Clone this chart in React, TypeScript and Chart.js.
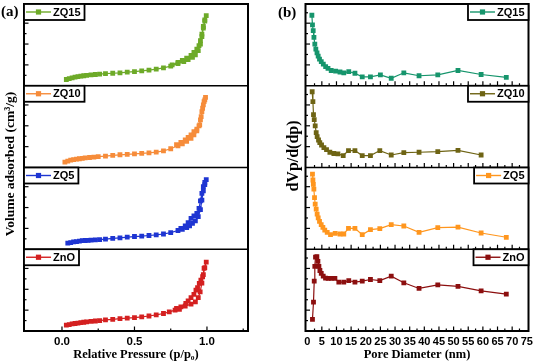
import React, { useEffect, useRef } from 'react';
import { Chart, registerables } from 'chart.js';

Chart.register(...registerables);

// ---------------- data ----------------
// (a) N2 isotherms: relative pressure vs volume adsorbed (arbitrary units per sub-panel)
const ZQ15_ADS_P = [0.03, 0.05, 0.07, 0.09, 0.11, 0.13, 0.15, 0.17, 0.2, 0.23, 0.26, 0.3, 0.35, 0.4, 0.45, 0.5, 0.55, 0.6, 0.65, 0.7, 0.75, 0.8, 0.84, 0.87, 0.9, 0.92, 0.94, 0.955, 0.965, 0.975, 0.985, 0.995];
const ZQ15_ADS_V = [15, 17, 19, 20.5, 22, 23, 24, 25, 26, 27, 28, 29, 30, 31, 32.5, 34, 35.5, 37.5, 40, 43, 47, 53, 58, 63, 68, 74, 84, 100, 118, 138, 155, 168];
const ZQ15_DES_P = [0.985, 0.975, 0.965, 0.955, 0.945, 0.93, 0.91, 0.89, 0.86, 0.83, 0.8, 0.76];
const ZQ15_DES_V = [158, 142, 124, 108, 96, 88, 80, 73, 66, 61, 56, 50];

const ZQ10_ADS_P = [0.02, 0.04, 0.06, 0.08, 0.1, 0.12, 0.14, 0.16, 0.19, 0.22, 0.25, 0.3, 0.35, 0.4, 0.45, 0.5, 0.55, 0.6, 0.65, 0.7, 0.75, 0.8, 0.83, 0.86, 0.89, 0.91, 0.93, 0.95, 0.96, 0.97, 0.98, 0.99];
const ZQ10_ADS_V = [13, 15.5, 17.5, 19, 20, 21, 22, 23, 24, 25, 26, 27.5, 29, 30.5, 31.5, 32.5, 34, 35, 37, 40, 45, 52, 57, 63, 70, 78, 88, 102, 122, 142, 158, 168];
const ZQ10_DES_P = [0.985, 0.975, 0.965, 0.955, 0.945, 0.93, 0.91, 0.89, 0.87, 0.85, 0.82, 0.79];
const ZQ10_DES_V = [162, 150, 134, 114, 100, 92, 86, 78, 72, 66, 60, 55];

const ZQ5_ADS_P = [0.04, 0.06, 0.08, 0.1, 0.12, 0.14, 0.16, 0.18, 0.2, 0.23, 0.26, 0.3, 0.35, 0.4, 0.45, 0.5, 0.55, 0.6, 0.65, 0.7, 0.75, 0.8, 0.83, 0.86, 0.88, 0.9, 0.92, 0.94, 0.955, 0.965, 0.975, 0.985, 0.995];
const ZQ5_ADS_V = [14.5, 16, 17.5, 18.5, 19.5, 20.5, 21, 21.5, 22, 22.5, 23, 24.5, 26, 27.5, 29, 30.5, 31.5, 33, 34.5, 36.5, 40, 45, 48, 52, 56, 62, 68, 78, 95, 118, 140, 155, 167];
const ZQ5_DES_P = [0.985, 0.975, 0.965, 0.955, 0.945, 0.93, 0.91, 0.89, 0.87, 0.85, 0.82];
const ZQ5_DES_V = [160, 150, 134, 116, 98, 86, 80, 74, 64, 56, 50];

const ZNO_ADS_P = [0.03, 0.05, 0.07, 0.09, 0.11, 0.13, 0.15, 0.17, 0.2, 0.23, 0.26, 0.3, 0.35, 0.4, 0.45, 0.5, 0.55, 0.6, 0.65, 0.7, 0.74, 0.78, 0.81, 0.85, 0.89, 0.92, 0.94, 0.953, 0.965, 0.975, 0.985, 0.995];
const ZNO_ADS_V = [14, 15.5, 17, 18, 19, 20, 21, 22, 23, 24, 25, 26.5, 28, 29.5, 31, 32, 34, 36, 38.5, 42, 46, 50, 52, 60, 64.5, 70, 80, 94, 115, 135, 152, 165];
const ZNO_DES_P = [0.98, 0.97, 0.958, 0.947, 0.935, 0.924, 0.91, 0.89, 0.87, 0.854, 0.82, 0.79];
const ZNO_DES_V = [150, 130, 122, 114, 104, 98, 88, 80, 72, 66, 58, 54];

// (b) BJH pore size distribution: pore diameter (nm) vs dVp/d(dp) (arbitrary units per sub-panel)
const ZQ15_PD_D = [1.6, 1.8, 2.05, 2.3, 2.6, 2.95, 3.35, 3.75, 4.2, 4.8, 5.5, 6.3, 7.1, 8.2, 9.7, 11.2, 12.5, 14.2, 16.3, 18.8, 21.6, 25.0, 28.7, 33.0, 38.2, 44.6, 51.5, 59.4, 68.0];
const ZQ15_PD_V = [169, 146, 132, 116, 100, 88, 79, 71, 64, 58, 52, 46, 41.5, 36.6, 35, 33, 31, 34, 30, 21.5, 21.5, 26, 18, 31, 24, 26, 36.6, 27, 20];

const ZQ10_PD_D = [1.7, 1.95, 2.15, 2.4, 2.73, 3.07, 3.4, 3.87, 4.3, 4.9, 5.7, 6.6, 7.74, 9.1, 10.5, 12.3, 14.1, 16.3, 18.8, 21.6, 24.8, 28.7, 33, 38.2, 44.6, 51.5, 59.4];
const ZQ10_PD_V = [181.6, 158, 127, 115, 99.6, 83.6, 74, 66, 59.8, 54, 47.8, 43, 36.6, 33.5, 32.7, 28.7, 40.6, 40.6, 28.7, 28.7, 40.6, 30, 35.8, 36.6, 38, 41, 30];

const ZQ5_PD_D = [1.8, 1.95, 2.1, 2.28, 2.5, 2.73, 3.07, 3.4, 3.76, 4.2, 4.78, 5.36, 6.0, 6.83, 7.97, 9.56, 11.2, 12.5, 14.1, 16.3, 18.8, 21.6, 24.8, 28.7, 33, 38.2, 44.6, 51.5, 59.4, 68];
const ZQ5_PD_V = [180, 166, 155.6, 144, 124, 108, 96, 84, 75, 67, 59, 52.6, 46, 40.6, 35, 38, 36.6, 36.6, 50, 50, 35, 47, 49.5, 59, 55.7, 40.6, 51.9, 53, 39, 28.7];

const ZNO_PD_D = [1.8, 2.15, 2.4, 2.6, 2.84, 3.3, 3.66, 4.0, 4.34, 4.8, 5.47, 6.26, 7.17, 8.2, 9.46, 10.8, 12.5, 14.2, 16.3, 18.8, 21.6, 24.8, 28.7, 33, 38.2, 44.6, 51.5, 59.4, 68];
const ZNO_PD_V = [28, 69, 119.5, 155, 177, 178.5, 167, 155, 145, 138, 131.5, 127, 126, 126, 126, 117, 117, 121, 117, 119.5, 123.5, 121, 131.5, 115.5, 102, 110.7, 106.8, 96.3, 88.4];

// sample names (top to bottom)
const SAMPLE_NAMES = ['ZQ15', 'ZQ10', 'ZQ5', 'ZnO'];

// axes
const Y_RANGE = [0, 196];
const Y_MAJOR = [50, 100, 150];
const Y_MINOR = [25, 75, 125, 175];
const XA_RANGE = [-0.262, 1.283];
const XA_TICKS = [0, 0.5, 1.0];
const XA_LABELS = ['0.0', '0.5', '1.0'];
const XB_RANGE = [-0.58, 75.58];
const XB_TICKS = [0, 5, 10, 15, 20, 25, 30, 35, 40, 45, 50, 55, 60, 65, 70, 75];
const XB_LABELS = ['0', '5', '10', '15', '20', '25', '30', '35', '40', '45', '50', '55', '60', '65', '70', '75'];

// colours
const COLORS_A = ['#6DAA28', '#F68C3A', '#1E35D2', '#D42020'];
const COLORS_B = ['#16956C', '#6E6414', '#FF961E', '#8C0F0F'];

const pts = (xs: number[], ys: number[]) => xs.map((x, i) => ({ x, y: ys[i] }));

const SERIES_A = [
  pts(ZQ15_ADS_P, ZQ15_ADS_V).concat(pts(ZQ15_DES_P, ZQ15_DES_V)),
  pts(ZQ10_ADS_P, ZQ10_ADS_V).concat(pts(ZQ10_DES_P, ZQ10_DES_V)),
  pts(ZQ5_ADS_P, ZQ5_ADS_V).concat(pts(ZQ5_DES_P, ZQ5_DES_V)),
  pts(ZNO_ADS_P, ZNO_ADS_V).concat(pts(ZNO_DES_P, ZNO_DES_V)),
];
const SERIES_B = [
  pts(ZQ15_PD_D, ZQ15_PD_V),
  pts(ZQ10_PD_D, ZQ10_PD_V),
  pts(ZQ5_PD_D, ZQ5_PD_V),
  pts(ZNO_PD_D, ZNO_PD_V),
];

type Spec = {
  series: { x: number; y: number }[][];
  colors: string[];
  xRange: number[];
  xTicks: number[];
  xLabels: string[];
  tickSize: number;
  xTitle: string;
  yTitle: string;
  yTitleFont: string;
  yTitleX: number;
  yTitleY: number;
  panelLabel: string;
  labelX: number;
  labelY: number;
  padding: { left: number; right: number; top: number; bottom: number };
  legendSide: 'left' | 'right';
  xTicksEveryRow: boolean;
};

const SERIF = '"Liberation Serif", "Times New Roman", serif';
const SANS = '"Liberation Sans", Arial, sans-serif';

function decorPlugin(spec: Spec) {
  return {
    id: 'decor',
    afterDraw(chart: any) {
      const ctx = chart.ctx as CanvasRenderingContext2D;
      const a = chart.chartArea;
      const xs = chart.scales.x;
      const n = spec.series.length;
      const ys = spec.series.map((_, i) => chart.scales['y' + i]);
      const line = (x1: number, y1: number, x2: number, y2: number) => {
        ctx.beginPath();
        ctx.moveTo(x1, y1);
        ctx.lineTo(x2, y2);
        ctx.stroke();
      };
      ctx.save();
      ctx.strokeStyle = '#000';
      ctx.fillStyle = '#000';
      // y ticks (inward, left edge)
      ctx.lineWidth = 1.2;
      ys.forEach((s: any) => {
        Y_MAJOR.forEach((v) => {
          const py = s.getPixelForValue(v);
          line(a.left, py, a.left + 4.5, py);
        });
        Y_MINOR.forEach((v) => {
          const py = s.getPixelForValue(v);
          line(a.left, py, a.left + 2.5, py);
        });
      });
      // x ticks (inward)
      const rows = spec.xTicksEveryRow ? ys.map((s: any) => s.bottom) : [a.bottom];
      const step = spec.xTicks[1] - spec.xTicks[0];
      rows.forEach((by: number) => {
        spec.xTicks.forEach((v) => {
          const px = xs.getPixelForValue(v);
          if (px > a.left + 3 && px < a.right - 3) line(px, by, px, by - 4.5);
        });
        for (let k = -1; k < spec.xTicks.length + 1; k++) {
          const v = spec.xTicks[0] + (k + 0.5) * step;
          const px = xs.getPixelForValue(v);
          if (px > a.left + 3 && px < a.right - 3) line(px, by, px, by - 2.5);
        }
      });
      // separators
      ctx.lineWidth = 1.6;
      for (let i = 1; i < n; i++) line(a.left, ys[i].top, a.right, ys[i].top);
      // frame
      ctx.lineWidth = 2;
      ctx.strokeRect(a.left, a.top, a.right - a.left, a.bottom - a.top);
      // legend boxes
      ctx.font = 'bold 11px ' + SANS;
      for (let i = 0; i < n; i++) {
        const name = SAMPLE_NAMES[i];
        const tw = ctx.measureText(name).width;
        const w = 29 + tw + 4;
        const h = 16;
        const bx = spec.legendSide === 'left' ? a.left : a.right - w;
        const by = ys[i].top;
        ctx.fillStyle = '#fff';
        ctx.fillRect(bx, by, w, h);
        ctx.strokeStyle = '#000';
        ctx.lineWidth = 1.8;
        ctx.strokeRect(bx, by, w, h);
        const cy = by + h / 2;
        ctx.strokeStyle = spec.colors[i];
        ctx.lineWidth = 1.4;
        line(bx + 2, cy, bx + 27, cy);
        ctx.fillStyle = spec.colors[i];
        ctx.fillRect(bx + 14.5 - 2.6, cy - 2.6, 5.2, 5.2);
        ctx.fillStyle = '#000';
        ctx.textAlign = 'left';
        ctx.textBaseline = 'middle';
        ctx.fillText(name, bx + 29, cy + 0.5);
      }
      // panel label
      ctx.fillStyle = '#000';
      ctx.font = 'bold 15px ' + SERIF;
      ctx.textAlign = 'left';
      ctx.textBaseline = 'middle';
      ctx.fillText(spec.panelLabel, spec.labelX, spec.labelY);
      // y title
      ctx.save();
      ctx.translate(spec.yTitleX, spec.yTitleY);
      ctx.rotate(-Math.PI / 2);
      ctx.font = spec.yTitleFont;
      ctx.textAlign = 'center';
      ctx.textBaseline = 'alphabetic';
      ctx.fillText(spec.yTitle, 0, 0);
      ctx.restore();
      ctx.restore();
    },
  };
}

function buildConfig(spec: Spec): any {
  const n = spec.series.length;
  const scales: any = {
    x: {
      type: 'linear',
      position: 'bottom',
      min: spec.xRange[0],
      max: spec.xRange[1],
      afterBuildTicks: (s: any) => {
        s.ticks = spec.xTicks.map((v) => ({ value: v }));
      },
      afterFit: (s: any) => {
        s.height = 31;
      },
      ticks: {
        autoSkip: false,
        maxRotation: 0,
        minRotation: 0,
        padding: 4,
        color: '#000',
        font: { family: SANS, size: spec.tickSize, weight: 'bold' },
        callback: (_v: any, i: number) => spec.xLabels[i],
      },
      grid: { display: false, drawTicks: false, drawOnChartArea: false },
      border: { display: false },
      title: {
        display: true,
        text: spec.xTitle,
        color: '#000',
        font: { family: SERIF, size: 12.5, weight: 'bold' },
        padding: { top: 0, bottom: 0 },
      },
    },
  };
  // bottom sub-panel first so that the top series is stacked on top
  for (let i = n - 1; i >= 0; i--) {
    scales['y' + i] = {
      type: 'linear',
      position: 'left',
      stack: 'panels',
      stackWeight: 1,
      min: Y_RANGE[0],
      max: Y_RANGE[1],
      display: false,
    };
  }
  return {
    type: 'line',
    data: {
      datasets: spec.series.map((d, i) => ({
        label: SAMPLE_NAMES[i],
        data: d,
        xAxisID: 'x',
        yAxisID: 'y' + i,
        borderColor: spec.colors[i],
        backgroundColor: spec.colors[i],
        pointBackgroundColor: spec.colors[i],
        pointBorderWidth: 0,
        pointStyle: 'rect',
        pointRadius: 3.4,
        borderWidth: 1.2,
        tension: 0,
        fill: false,
        clip: 6,
      })),
    },
    options: {
      animation: false,
      responsive: false,
      maintainAspectRatio: false,
      devicePixelRatio: 1,
      layout: { padding: spec.padding },
      plugins: { legend: { display: false }, tooltip: { enabled: false }, title: { display: false } },
      scales,
    },
    plugins: [decorPlugin(spec)],
  };
}

const SPEC_A: Spec = {
  series: SERIES_A,
  colors: COLORS_A,
  xRange: XA_RANGE,
  xTicks: XA_TICKS,
  xLabels: XA_LABELS,
  tickSize: 11.5,
  xTitle: 'Relative Pressure (p/p\u2080)',
  yTitle: 'Volume adsorbed (cm\u00b3/g)',
  yTitleFont: 'bold 13.5px ' + SERIF,
  yTitleX: 14,
  yTitleY: 164,
  panelLabel: '(a)',
  labelX: 1,
  labelY: 12,
  padding: { left: 24, right: 19, top: 1, bottom: 0 },
  legendSide: 'left',
  xTicksEveryRow: false,
};

const SPEC_B: Spec = {
  series: SERIES_B,
  colors: COLORS_B,
  xRange: XB_RANGE,
  xTicks: XB_TICKS,
  xLabels: XB_LABELS,
  tickSize: 11,
  xTitle: 'Pore Diameter (nm)',
  yTitle: 'dVp/d(dp)',
  yTitleFont: 'bold 16px ' + SERIF,
  yTitleX: 31,
  yTitleY: 156,
  panelLabel: '(b)',
  labelX: 11,
  labelY: 13,
  padding: { left: 38.5, right: 23.5, top: 1, bottom: 0 },
  legendSide: 'right',
  xTicksEveryRow: true,
};

export default function App() {
  const leftRef = useRef<HTMLCanvasElement>(null);
  const rightRef = useRef<HTMLCanvasElement>(null);
  useEffect(() => {
    const c1 = new Chart(leftRef.current as HTMLCanvasElement, buildConfig(SPEC_A));
    const c2 = new Chart(rightRef.current as HTMLCanvasElement, buildConfig(SPEC_B));
    return () => {
      c1.destroy();
      c2.destroy();
    };
  }, []);
  return (
    <div style={{ position: 'absolute', left: 0, top: 0, width: 534, height: 362, overflow: 'hidden', background: '#fff' }}>
      <canvas ref={leftRef} width={267} height={362} style={{ position: 'absolute', left: 0, top: 0, width: 267, height: 362 }} />
      <canvas ref={rightRef} width={285} height={362} style={{ position: 'absolute', left: 267, top: 0, width: 285, height: 362 }} />
    </div>
  );
}
